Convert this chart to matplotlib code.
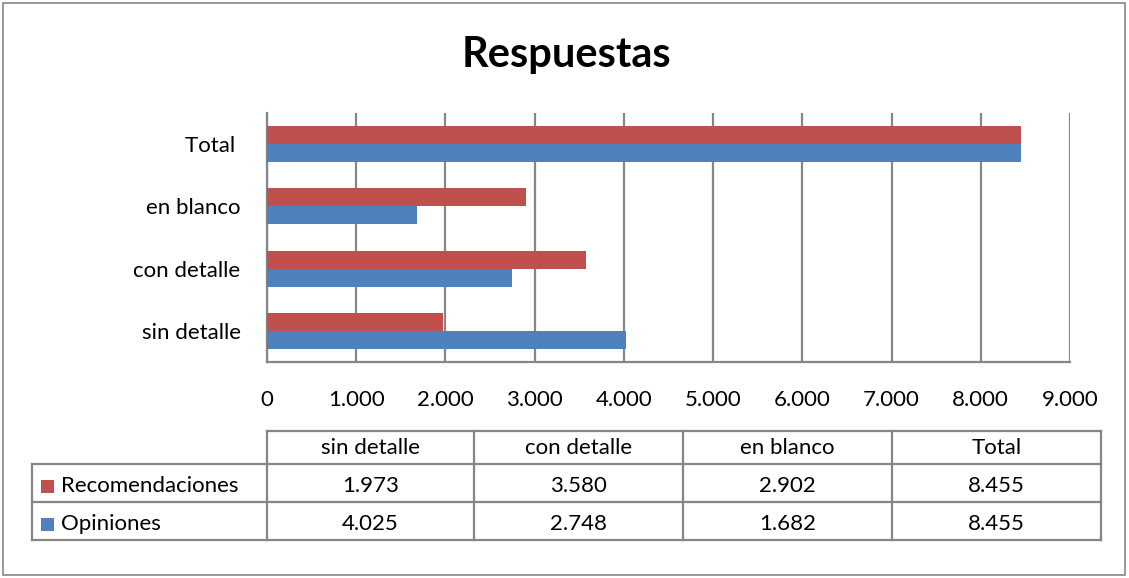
import matplotlib
matplotlib.use("Agg")
import matplotlib.pyplot as plt
from matplotlib.lines import Line2D
from matplotlib.patches import Rectangle

categories = ["sin detalle", "con detalle", "en blanco", "Total"]
recomendaciones = [1973, 3580, 2902, 8455]
opiniones = [4025, 2748, 1682, 8455]
series_names = ["Recomendaciones", "Opiniones"]
x_ticks = [0, 1000, 2000, 3000, 4000, 5000, 6000, 7000, 8000, 9000]

RED = "#C0504D"
BLUE = "#4F81BD"
GRID = "#868686"
W, H = 1129, 578
FS = 16

plt.rcParams["font.family"] = ["Lato", "DejaVu Sans"]


def fmt(v):
    return f"{v:,}".replace(",", ".")


def fx(px):
    return px / W


def fy(py):
    return 1 - py / H


fig = plt.figure(figsize=(W / 100, H / 100), dpi=100)

# outer frame
fig.add_artist(Rectangle((fx(3), fy(575)), fx(1122), 572 / H, transform=fig.transFigure,
                         fill=False, edgecolor=GRID, linewidth=1.2))

fig.text(fx(566), fy(55), "Respuestas", ha="center", va="center", fontsize=30, fontweight="bold")

ax = fig.add_axes([fx(267), fy(362), fx(803), 249 / H])
pos = range(len(categories))
h = 0.29
ax.barh([p + h / 2 for p in pos], recomendaciones, height=h, color=RED, zorder=3)
ax.barh([p - h / 2 for p in pos], opiniones, height=h, color=BLUE, zorder=3)
ax.set_xlim(0, 9000)
ax.set_ylim(-0.5, len(categories) - 0.5)
ax.set_xticks(x_ticks)
ax.set_xticklabels([fmt(v) for v in x_ticks])
ax.set_yticks(list(pos))
ax.set_yticklabels([c if c != "Total" else "Total " for c in categories])
ax.tick_params(axis="x", length=0, pad=20, labelsize=FS)
ax.tick_params(axis="y", length=0, pad=19, labelsize=FS)
ax.grid(axis="x", color=GRID, linewidth=1.6, zorder=0)
for s in ["top", "right"]:
    ax.spines[s].set_visible(False)
for s in ["left", "bottom"]:
    ax.spines[s].set_color(GRID)
    ax.spines[s].set_linewidth(1.6)

# data table
col_x = [267, 474, 683, 892, 1101]
row_y = [431, 464, 502, 540]
left_x = 32
dy = 3


def hline(x0, x1, y):
    fig.add_artist(Line2D([fx(x0), fx(x1)], [fy(y), fy(y)], transform=fig.transFigure,
                          color=GRID, linewidth=1.6))


def vline(x, y0, y1):
    fig.add_artist(Line2D([fx(x), fx(x)], [fy(y0), fy(y1)], transform=fig.transFigure,
                          color=GRID, linewidth=1.6))


hline(col_x[0], col_x[-1], row_y[0])
for y in row_y[1:]:
    hline(left_x, col_x[-1], y)
for x in col_x:
    vline(x, row_y[0], row_y[-1])
vline(left_x, row_y[1], row_y[-1])

for i, cat in enumerate(categories):
    cx = (col_x[i] + col_x[i + 1]) / 2
    fig.text(fx(cx), fy((row_y[0] + row_y[1]) / 2 + 1), cat, ha="center", va="center", fontsize=FS)
    fig.text(fx(cx), fy((row_y[1] + row_y[2]) / 2 + dy), fmt(recomendaciones[i]), ha="center", va="center", fontsize=FS)
    fig.text(fx(cx), fy((row_y[2] + row_y[3]) / 2 + dy), fmt(opiniones[i]), ha="center", va="center", fontsize=FS)

for r, (name, color) in enumerate(zip(series_names, [RED, BLUE])):
    cy = (row_y[r + 1] + row_y[r + 2]) / 2 + dy
    fig.add_artist(Rectangle((fx(41), fy(cy + 7)), fx(13), 13 / H, transform=fig.transFigure,
                             facecolor=color, edgecolor="none"))
    fig.text(fx(61), fy(cy), name, ha="left", va="center", fontsize=FS)

fig.savefig("out.png", dpi=100)
